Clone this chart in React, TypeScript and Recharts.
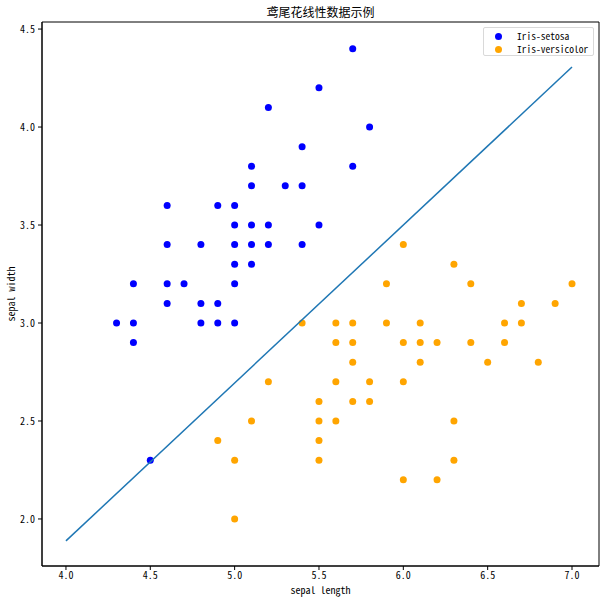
import { ScatterChart, Scatter, XAxis, YAxis, ReferenceArea } from 'recharts';

const setosaX = [5.7, 5.5, 5.2, 5.8, 5.4, 5.1, 5.7, 5.1, 5.3, 5.4, 4.6, 4.9, 5.0, 5.0, 5.1, 5.2, 5.5, 4.6, 4.8, 5.0, 5.1, 5.2, 5.4, 5.0, 5.1, 4.4, 4.6, 4.7, 5.0, 4.6, 4.8, 4.9, 4.3, 4.4, 4.8, 4.9, 5.0, 4.4, 4.5];
const setosaY = [4.4, 4.2, 4.1, 4.0, 3.9, 3.8, 3.8, 3.7, 3.7, 3.7, 3.6, 3.6, 3.6, 3.5, 3.5, 3.5, 3.5, 3.4, 3.4, 3.4, 3.4, 3.4, 3.4, 3.3, 3.3, 3.2, 3.2, 3.2, 3.2, 3.1, 3.1, 3.1, 3.0, 3.0, 3.0, 3.0, 3.0, 2.9, 2.3];

const versicolorX = [6.0, 6.3, 5.9, 6.4, 7.0, 6.7, 6.9, 5.4, 5.6, 5.7, 5.9, 6.1, 6.6, 6.7, 5.6, 5.7, 6.0, 6.1, 6.2, 6.4, 6.6, 5.7, 6.1, 6.5, 6.8, 5.2, 5.6, 5.8, 6.0, 5.5, 5.7, 5.8, 5.1, 5.5, 5.6, 6.3, 4.9, 5.5, 5.0, 5.5, 6.3, 6.0, 6.2, 5.0];
const versicolorY = [3.4, 3.3, 3.2, 3.2, 3.2, 3.1, 3.1, 3.0, 3.0, 3.0, 3.0, 3.0, 3.0, 3.0, 2.9, 2.9, 2.9, 2.9, 2.9, 2.9, 2.9, 2.8, 2.8, 2.8, 2.8, 2.7, 2.7, 2.7, 2.7, 2.6, 2.6, 2.6, 2.5, 2.5, 2.5, 2.5, 2.4, 2.4, 2.3, 2.3, 2.3, 2.2, 2.2, 2.0];

// decision line endpoints
const lineX = [4.0, 7.0];
const lineY = [1.888, 4.306];

const xTicks = [4.0, 4.5, 5.0, 5.5, 6.0, 6.5, 7.0];
const yTicks = [2.0, 2.5, 3.0, 3.5, 4.0, 4.5];

const toPoints = (xs: number[], ys: number[]) => xs.map((x, i) => ({ x, y: ys[i] }));

const setosa = toPoints(setosaX, setosaY);
const versicolor = toPoints(versicolorX, versicolorY);
const lineData = toPoints(lineX, lineY);

const xDomain = [3.858, 7.16];
const yDomain = [1.76, 4.536];

const font = '"Noto Sans CJK SC", "DejaVu Sans", sans-serif';
const mono = '"Noto Sans Mono CJK SC", "DejaVu Sans Mono", monospace';

const dot = (color: string) => (props: any) => (
  <circle cx={props.cx} cy={props.cy} r={3.5} fill={color} />
);

function LegendBox() {
  const items = [
    { name: 'Iris-setosa', color: '#0000ff' },
    { name: 'Iris-versicolor', color: '#ffa500' },
  ];
  return (
    <div
      style={{
        position: 'absolute',
        left: 483,
        top: 27,
        width: 111,
        height: 29,
        border: '1px solid #d9d9d9',
        borderRadius: 2,
        background: '#fff',
        fontFamily: mono,
        fontSize: 9.5,
        lineHeight: '13px',
        boxSizing: 'border-box',
      }}
    >
      {items.map((it, i) => (
        <div key={it.name} style={{ position: 'absolute', left: 11, top: 2 + i * 13, height: 13, display: 'flex', alignItems: 'center', whiteSpace: 'nowrap' }}>
          <span style={{ width: 7, height: 7, borderRadius: '50%', background: it.color, display: 'inline-block' }} />
          <span style={{ marginLeft: 15 }}>{it.name}</span>
        </div>
      ))}
    </div>
  );
}

export default function App() {
  return (
    <div style={{ position: 'absolute', left: 0, top: 0, width: 606, height: 600, background: '#fff' }}>
      <div
        style={{
          position: 'absolute',
          left: 42,
          width: 557,
          top: 4,
          textAlign: 'center',
          fontFamily: font,
          fontSize: 12,
          lineHeight: '16px',
        }}
      >
        鸢尾花线性数据示例
      </div>
      <ScatterChart width={606} height={600} margin={{ top: 22, right: 7, bottom: 0, left: 0 }}>
        <XAxis
          type="number"
          dataKey="x"
          domain={xDomain}
          ticks={xTicks}
          allowDataOverflow
          height={34}
          tickSize={4}
          tickMargin={2}
          stroke="#000"
          tick={{ fill: '#000', fontSize: 10, fontFamily: mono }}
          tickFormatter={(v: number) => v.toFixed(1)}
          label={{ value: 'sepal length', position: 'center', dy: 7, fill: '#000', fontSize: 10, fontFamily: mono }}
        />
        <YAxis
          type="number"
          dataKey="y"
          domain={yDomain}
          ticks={yTicks}
          allowDataOverflow
          width={42}
          tickSize={4}
          tickMargin={3}
          stroke="#000"
          tick={{ fill: '#000', fontSize: 10, fontFamily: mono }}
          tickFormatter={(v: number) => v.toFixed(1)}
          label={{ value: 'sepal width', angle: -90, position: 'center', dx: -10, fill: '#000', fontSize: 10, fontFamily: mono }}
        />
        <ReferenceArea x1={xDomain[0]} x2={xDomain[1]} y1={yDomain[0]} y2={yDomain[1]} fill="none" stroke="#000" strokeWidth={1} />
        <Scatter data={setosa} shape={dot('#0000ff')} isAnimationActive={false} />
        <Scatter data={versicolor} shape={dot('#ffa500')} isAnimationActive={false} />
        <Scatter
          data={lineData}
          line={{ stroke: '#1f77b4', strokeWidth: 1.5 }}
          shape={() => <g />}
          isAnimationActive={false}
        />
      </ScatterChart>
      <LegendBox />
    </div>
  );
}
